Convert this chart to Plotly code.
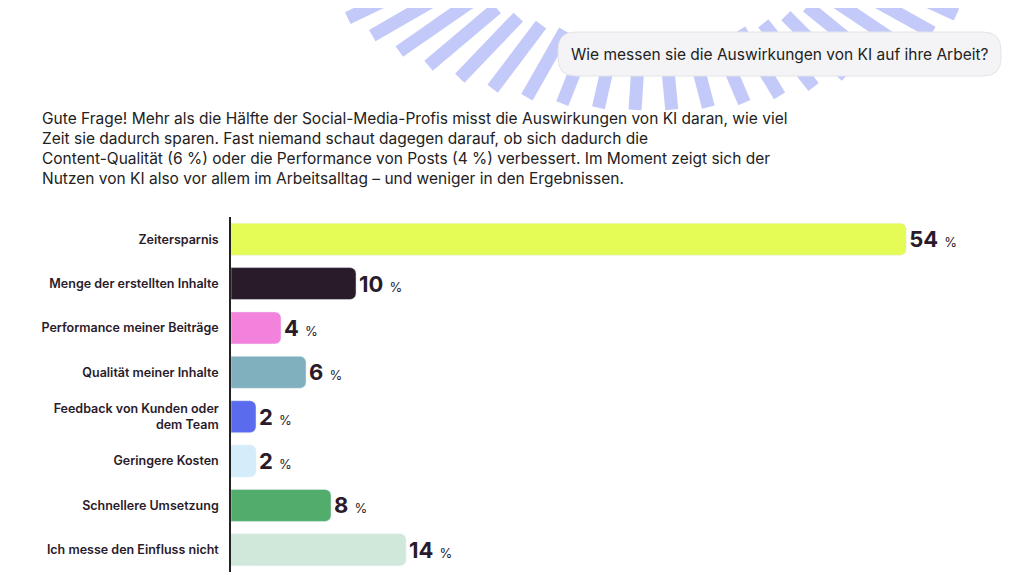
import plotly.graph_objects as go
import math

categories = ["Zeitersparnis", "Menge der erstellten Inhalte", "Performance meiner Beiträge",
              "Qualität meiner Inhalte", "Feedback von Kunden oder<br>dem Team", "Geringere Kosten",
              "Schnellere Umsetzung", "Ich messe den Einfluss nicht"]
values = [54, 10, 4, 6, 2, 2, 8, 14]
colors = ["#E4FC55", "#2A1B2B", "#F382DD", "#80AFBD", "#5B6BEE", "#D5ECFA", "#52AC6C", "#D0E8D9"]

labels = ["<b>%d</b> <span style='font-size:13px'>%%</span>" % v for v in values]

OFF = 8  # page body margin
L, T, W, H = 231 - OFF, 217 - OFF, 769, 355
def px(x):  # reference pixel -> paper
    return (x - OFF - L) / W
def py(y):
    return (T + H - (y - OFF)) / H

fig = go.Figure(go.Bar(
    x=values, y=categories, orientation="h", marker_color=colors, width=0.72,
    text=labels, textposition="outside", cliponaxis=False,
    textfont=dict(size=22, color="#2A1B2B", family="Inter"),
))

fig.update_layout(
    width=1024, height=575, plot_bgcolor="rgba(0,0,0,0)", paper_bgcolor="white",
    margin=dict(l=L, r=1024 - L - W, t=T, b=575 - T - H), barcornerradius=6, showlegend=False,
    font=dict(family="Inter", color="#2A1B2B"),
)
fig.update_xaxes(range=[0, 61.5], visible=False)
fig.update_yaxes(autorange="reversed", showline=True, linecolor="#222", linewidth=1.5, automargin=False,
                 ticks="", ticklabelstandoff=8, tickfont=dict(size=12.5, color="#2A1B2B", weight=600))

# decorative blue stripes at top
shapes = []
cx, cy = 650, -140
for i in range(26):
    a = math.radians(22 + i * 5.4)
    x0, y0 = cx + 270 * math.cos(a), cy + 180 * math.sin(a)
    x1, y1 = cx + 390 * math.cos(a), cy + 250 * math.sin(a)
    shapes.append(dict(type="line", xref="paper", yref="paper",
                       x0=px(x0), y0=py(y0), x1=px(x1), y1=py(y1),
                       line=dict(color="rgba(105,120,240,0.4)", width=13), layer="below"))
# question bubble
x0, x1, y0, y1, r = px(558), px(1001), py(32), py(76), 0.05
rx = r * H / W
shapes.append(dict(type="path", xref="paper", yref="paper",
                   path=f"M {x0+rx},{y0} L {x1-rx},{y0} Q {x1},{y0} {x1},{y0-r} L {x1},{y1+r} Q {x1},{y1} {x1-rx},{y1} "
                        f"L {x0+rx},{y1} Q {x0},{y1} {x0},{y1+r} L {x0},{y0-r} Q {x0},{y0} {x0+rx},{y0} Z",
                   fillcolor="#F4F4F6", line=dict(color="#E4E4E8", width=1)))
fig.update_layout(shapes=shapes)

fig.add_annotation(xref="paper", yref="paper", x=px(780), y=py(55), xanchor="center", yanchor="middle",
                   showarrow=False, text="Wie messen sie die Auswirkungen von KI auf ihre Arbeit?",
                   font=dict(size=15.5, color="#222"))
fig.add_annotation(xref="paper", yref="paper", x=px(40), xanchor="left", y=py(107), yanchor="top",
                   showarrow=False, align="left",
                   text="Gute Frage! Mehr als die Hälfte der Social-Media-Profis misst die Auswirkungen von KI daran, wie viel<br>"
                        "Zeit sie dadurch sparen. Fast niemand schaut dagegen darauf, ob sich dadurch die<br>"
                        "Content-Qualität (6 %) oder die Performance von Posts (4 %) verbessert. Im Moment zeigt sich der<br>"
                        "Nutzen von KI also vor allem im Arbeitsalltag – und weniger in den Ergebnissen.",
                   font=dict(size=15.5, color="#222"))

fig.write_html("out.html")
